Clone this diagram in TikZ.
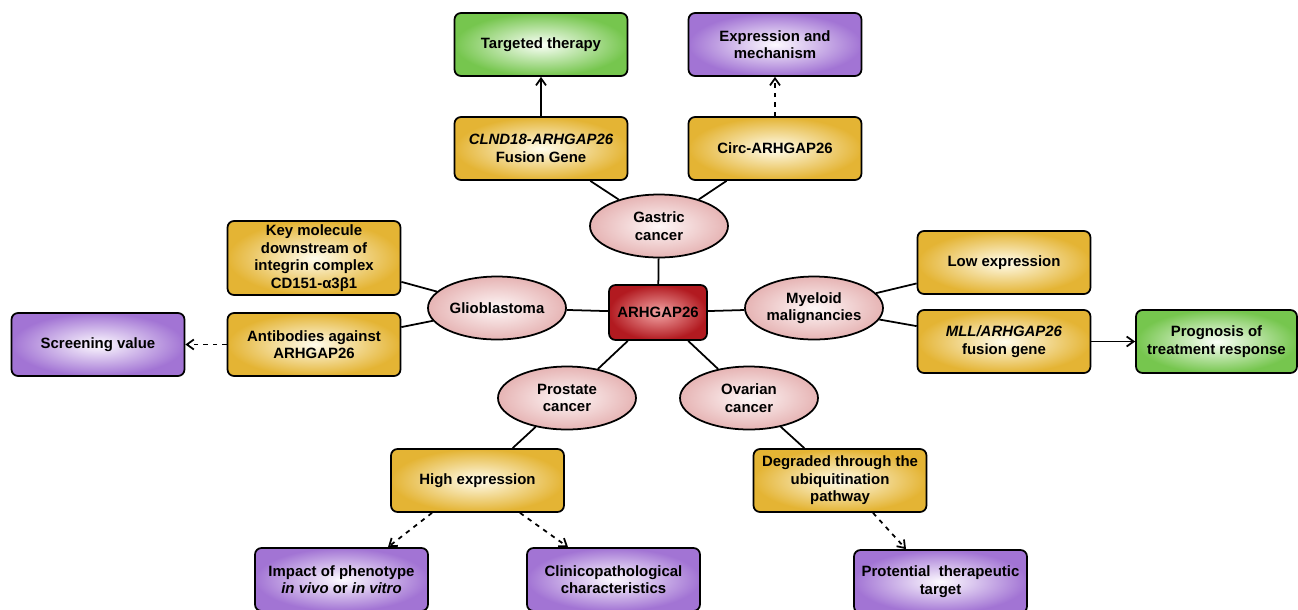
\documentclass[tikz,border=0pt]{standalone}
\usepackage{fontspec}
\setmainfont{Liberation Sans}
\usetikzlibrary{shapes.geometric,arrows.meta,calc}
\definecolor{yout}{RGB}{228,180,52}
\definecolor{yin}{RGB}{255,252,236}
\definecolor{gout}{RGB}{118,198,78}
\definecolor{gin}{RGB}{250,255,248}
\definecolor{pout}{RGB}{162,116,212}
\definecolor{pin}{RGB}{253,250,255}
\definecolor{eout}{RGB}{230,180,180}
\definecolor{ein}{RGB}{254,247,247}
\definecolor{rout}{RGB}{178,26,32}
\definecolor{rin}{RGB}{242,165,165}
\begin{document}
\begin{tikzpicture}[x=0.02cm,y=-0.02cm,
  txt/.style={font=\fontsize{8.5}{10}\selectfont\bfseries, align=center},
  boxbase/.style={txt, draw=black, line width=1pt, rounded corners=0.13cm,
    minimum width=3.46cm, minimum height=1.26cm, inner sep=1pt},
  ybox/.style={boxbase, inner color=yin, outer color=yout},
  gbox/.style={boxbase, inner color=gin, outer color=gout},
  pbox/.style={boxbase, inner color=pin, outer color=pout},
  ell/.style={txt, ellipse, draw=black, line width=1pt, inner sep=0pt,
    minimum width=2.76cm, minimum height=1.26cm, inner color=ein, outer color=eout},
  hubbox/.style={txt, draw=black, line width=1pt, rounded corners=0.13cm,
    minimum width=1.96cm, minimum height=1.1cm, inner color=rin, outer color=rout},
  link/.style={line width=1pt},
  arr/.style={line width=1pt, -{Straight Barb[length=1.4mm,width=2mm]}},
  darr/.style={arr, dash pattern=on 0.9mm off 1mm}
]
\useasboundingbox (0,0) rectangle (1298,609);

% centre
\node[hubbox] (hub) at (658,312.5) {ARHGAP26};

% ellipses
\node[ell] (gas) at (659,226) {Gastric\\cancer};
\node[ell] (gli) at (497,308) {Glioblastoma};
\node[ell] (mye) at (814,308) {Myeloid\\malignancies};
\node[ell] (pro) at (567,398) {Prostate\\cancer};
\node[ell] (ova) at (749,398) {Ovarian\\cancer};

% gastric branch
\node[ybox] (cln) at (541,148.5) {\textit{CLND18-ARHGAP26}\\Fusion Gene};
\node[ybox] (circ) at (775,148.5) {Circ-ARHGAP26};
\node[gbox] (tt) at (541,44.5) {Targeted therapy};
\node[pbox] (em) at (775,44.5) {Expression and\\mechanism};

% glioblastoma branch
\node[ybox, minimum height=1.48cm] (key) at (314,258) {Key molecule\\downstream of\\integrin complex\\CD151-α3β1};
\node[ybox] (ab) at (314,344.5) {Antibodies against\\ARHGAP26};
\node[pbox] (sv) at (98,344.5) {Screening value};

% myeloid branch
\node[ybox] (low) at (1004,262.5) {Low expression};
\node[ybox] (mll) at (1004,341.5) {\textit{MLL/ARHGAP26}\\fusion gene};
\node[gbox, minimum width=3.22cm] (prog) at (1216.5,341.5) {Prognosis of\\treatment response};

% prostate branch
\node[ybox] (high) at (477.5,480.5) {High expression};
\node[pbox] (imp) at (341.5,579.5) {Impact of phenotype\\\textit{in vivo} or \textit{in vitro}};
\node[pbox] (clin) at (613.5,579.5) {Clinicopathological\\characteristics};

% ovarian branch
\node[ybox] (deg) at (840,480.5) {Degraded through the\\ubiquitination\\pathway};
\node[pbox] (ptt) at (940.5,581.5) {Protential~ therapeutic\\target};

% links
\draw[link] (gas) -- (hub);
\draw[link] (gli) -- (hub);
\draw[link] (mye) -- (hub);
\draw[link] (pro) -- (hub);
\draw[link] (ova) -- (hub);
\draw[link] (cln) -- (gas);
\draw[link] (circ) -- (gas);
\draw[link] (key) -- (gli);
\draw[link] (ab) -- (gli);
\draw[link] (low) -- (mye);
\draw[link] (mll) -- (mye);
\draw[link] (pro) -- (high);
\draw[link] (ova) -- (deg);

% arrows
\draw[arr] (cln.north) -- (tt.south);
\draw[darr] (circ.north) -- (em.south);
\draw[darr] (ab.west) -- (sv.east);
\draw[arr] (mll.east) -- (prog.west);
\draw[darr] ([xshift=-0.91cm]high.south) -- ([xshift=0.93cm]imp.north);
\draw[darr] ([xshift=0.85cm]high.south) -- ([xshift=-0.91cm]clin.north);
\draw[darr] ([xshift=0.66cm]deg.south) -- ([xshift=-0.69cm]ptt.north);
\end{tikzpicture}
\end{document}
